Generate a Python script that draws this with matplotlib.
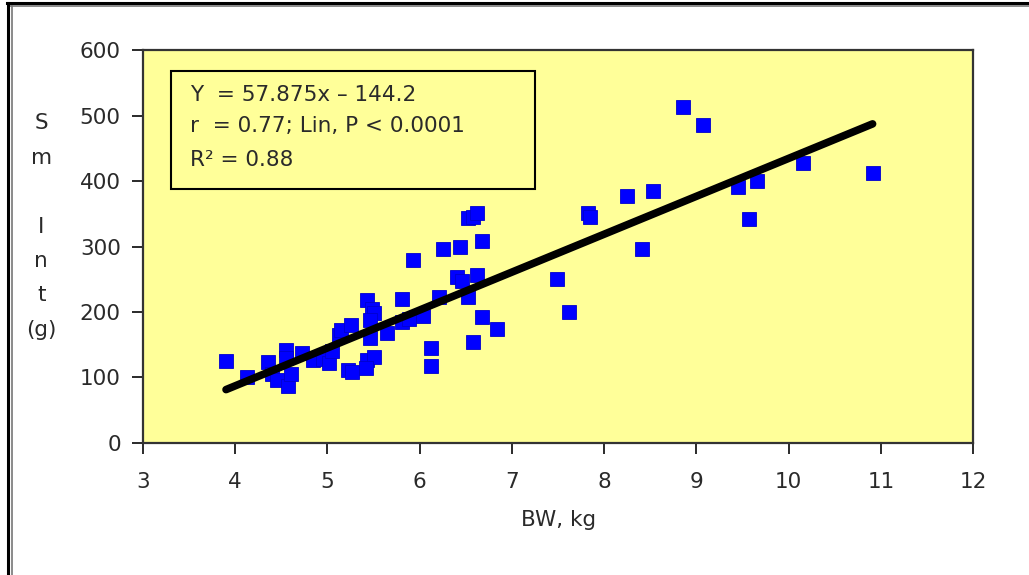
"""Sm Int weight vs body weight, scatter with the linear fit (Excel-style look)."""
import matplotlib
matplotlib.use("Agg")
import matplotlib.pyplot as plt
from matplotlib.lines import Line2D
from matplotlib.patches import Rectangle

plt.rcParams["font.family"] = ["DejaVu Sans"]

# body weight (kg) and small intestine weight (g)
bw_kg = [3.90, 4.13, 4.36, 4.40, 4.45, 4.55, 4.55, 4.57, 4.60, 4.72,
         4.84, 4.95, 5.02, 5.05, 5.12, 5.15, 5.22, 5.27, 5.25, 5.43,
         5.48, 5.50, 5.46, 5.46, 5.43, 5.50, 5.42, 5.65, 5.81, 5.81,
         5.88, 5.93, 6.04, 6.12, 6.12, 6.21, 6.25, 6.40, 6.44, 6.46,
         6.52, 6.58, 6.62, 6.52, 6.62, 6.68, 6.68, 6.58, 6.84, 7.49,
         7.62, 7.82, 7.85, 8.25, 8.41, 8.53, 8.85, 9.07, 9.45, 9.57,
         9.66, 10.16, 10.91]
sm_int_g = [125, 100, 124, 105, 96, 142, 130, 87, 105, 138,
            127, 128, 122, 140, 165, 172, 112, 108, 180, 218,
            205, 198, 188, 160, 127, 132, 115, 168, 220, 185,
            190, 279, 194, 145, 117, 223, 296, 253, 299, 247,
            343, 345, 351, 223, 256, 308, 192, 154, 174, 250,
            200, 351, 345, 377, 296, 385, 513, 485, 391, 342,
            400, 427, 412]

# fit as printed on the chart
slope, intercept = 57.875, -144.2
fit_x = [min(bw_kg), max(bw_kg)]
fit_y = [slope * x + intercept for x in fit_x]

stats_lines = ["Y  = 57.875x \u2013 144.2",
               "r  = 0.77; Lin, P < 0.0001",
               "R\u00b2 = 0.88"]

YELLOW = "#FFFF99"
TXT = "#2a2a2a"
FS = 15.5

fig = plt.figure(figsize=(10.29, 5.75), dpi=100)
ax = fig.add_axes([0.139, 0.2296, 0.8067, 0.6834])
ax.set_facecolor(YELLOW)

ax.plot(bw_kg, sm_int_g, linestyle="none", marker="s", markersize=10.5,
        color="#0000FF", markeredgecolor="#0000CC", markeredgewidth=0.6, zorder=3)
ax.plot(fit_x, fit_y, color="black", linewidth=5.5, solid_capstyle="round", zorder=4)

ax.set_xlim(3, 12)
ax.set_ylim(0, 600)
ax.set_xticks(range(3, 13))
ax.set_yticks(range(0, 601, 100))
ax.tick_params(direction="out", length=8, width=1.4, labelsize=FS,
               colors=TXT, pad=13)
ax.tick_params(axis="y", pad=8)
for side in ax.spines.values():
    side.set_linewidth(1.6)
    side.set_color("#333333")

ax.set_xlabel("BW, kg", fontsize=FS, color=TXT, labelpad=13)
fig.text(0.040, 0.606, "S\nm\n\nI\nn\nt\n(g)", ha="center", va="center",
         fontsize=FS, color=TXT, linespacing=1.9)

# stats box in the upper left
ax.add_patch(Rectangle((0.0337, 0.646), 0.4386, 0.3006, transform=ax.transAxes,
                       facecolor=YELLOW, edgecolor="black", linewidth=1.5, zorder=5))
for txt, yy in zip(stats_lines, [0.8855, 0.8066, 0.720]):
    ax.text(0.0566, yy, txt, transform=ax.transAxes, ha="left", va="center",
            fontsize=FS, color=TXT, zorder=6)

# page frame (double line top and left)
fig.add_artist(Line2D([0.007, 1], [0.995, 0.995], color="black", linewidth=2.2))
fig.add_artist(Line2D([0.010, 1], [0.989, 0.989], color="#777777", linewidth=1.2))
fig.add_artist(Line2D([0.008, 0.008], [0, 0.995], color="black", linewidth=2.2))
fig.add_artist(Line2D([0.0112, 0.0112], [0, 0.989], color="#777777", linewidth=1.2))

fig.savefig("out.png", dpi=100)
